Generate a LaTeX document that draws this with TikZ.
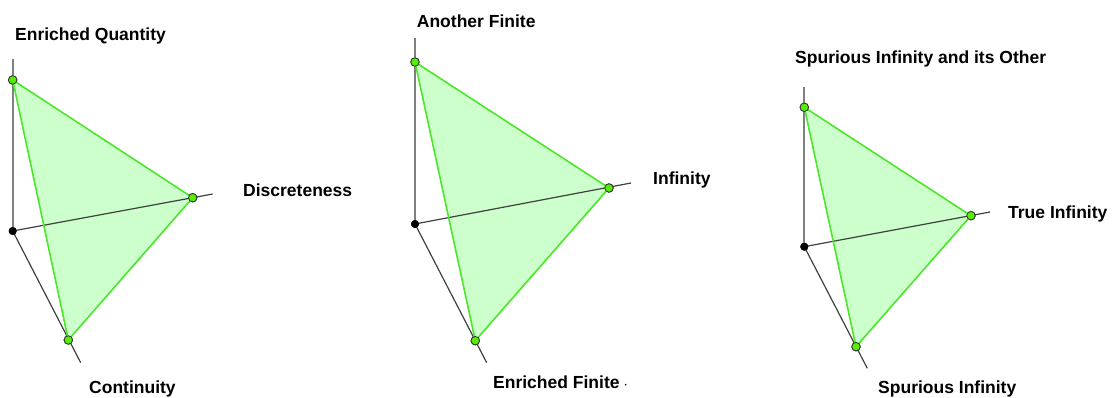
\documentclass[tikz,border=0pt]{standalone}
\usepackage{fontspec}
\setmainfont{Liberation Sans}
\definecolor{facegreen}{HTML}{CCFFCC}
\definecolor{edgegreen}{HTML}{4CE62A}
\definecolor{dotgreen}{HTML}{55EE00}
\begin{document}
\begin{tikzpicture}[x=1pt, y=-1pt,
  lbl/.style={anchor=base west, inner sep=0pt, font=\fontsize{17.5}{20}\selectfont\bfseries},
  vax/.style={draw=black!50, line width=2pt},
  ax/.style={draw=black!75, line width=1.2pt},
  face/.style={fill=facegreen},
  edge/.style={draw=edgegreen, line width=1.6pt},
  gpt/.style={circle, draw=black!80, fill=dotgreen, line width=0.8pt, inner sep=0pt,
              minimum size=8.5pt},
  opt/.style={circle, fill=black, inner sep=0pt, minimum size=8pt},
]
  \useasboundingbox (0,0) rectangle (1112,398);

  % left: Enriched Quantity
  \node[opt] (o1) at (12.7,231)  {};
  \node[gpt] (a1) at (12.7,80)   {};
  \node[gpt] (b1) at (192.7,197.7) {};
  \node[gpt] (c1) at (68.3,340)  {};
  \coordinate (t1) at (12.7,59);
  \coordinate (r1) at (212.7,194);
  \coordinate (d1) at (80.7,362.7);
  \fill[face] (a1.center) -- (b1.center) -- (c1.center) -- cycle;
  \draw[vax] (o1.center) -- (t1);
  \draw[ax]  (o1.center) -- (r1);
  \draw[ax]  (o1.center) -- (d1);
  \draw[edge] (a1.center) -- (b1.center) -- (c1.center) -- cycle;
  \node[gpt] at (a1) {}; \node[gpt] at (b1) {}; \node[gpt] at (c1) {}; \node[opt] at (o1) {};
  \node[lbl] (q1) at (15,40.5)   {Enriched Quantity};
  \node[lbl] (q2) at (243,197)   {Discreteness};
  \node[lbl] (q3) at (89,393)    {Continuity};

  % middle: Another Finite
  \node[opt] (o2) at (415,224)    {};
  \node[gpt] (a2) at (415,62)     {};
  \node[gpt] (b2) at (609,188)    {};
  \node[gpt] (c2) at (475.3,340.7) {};
  \coordinate (t2) at (415,38);
  \coordinate (r2) at (631,183);
  \coordinate (d2) at (486.7,362.7);
  \fill[face] (a2.center) -- (b2.center) -- (c2.center) -- cycle;
  \draw[vax] (o2.center) -- (t2);
  \draw[ax]  (o2.center) -- (r2);
  \draw[ax]  (o2.center) -- (d2);
  \draw[edge] (a2.center) -- (b2.center) -- (c2.center) -- cycle;
  \node[gpt] at (a2) {}; \node[gpt] at (b2) {}; \node[gpt] at (c2) {}; \node[opt] at (o2) {};
  \node[lbl] (f1) at (416.7,27.3) {Another Finite};
  \node[lbl] (f2) at (653,185)    {Infinity};
  \node[lbl] (f3) at (493,388)    {Enriched Finite {\fontsize{10}{12}\selectfont ·}};

  % right: Spurious Infinity
  \node[opt] (o3) at (804.3,246.7) {};
  \node[gpt] (a3) at (804.3,107.3) {};
  \node[gpt] (b3) at (971,215.7)   {};
  \node[gpt] (c3) at (856,346.7)   {};
  \coordinate (t3) at (804.3,87);
  \coordinate (r3) at (990,212);
  \coordinate (d3) at (867.3,368.3);
  \fill[face] (a3.center) -- (b3.center) -- (c3.center) -- cycle;
  \draw[vax] (o3.center) -- (t3);
  \draw[ax]  (o3.center) -- (r3);
  \draw[ax]  (o3.center) -- (d3);
  \draw[edge] (a3.center) -- (b3.center) -- (c3.center) -- cycle;
  \node[gpt] at (a3) {}; \node[gpt] at (b3) {}; \node[gpt] at (c3) {}; \node[opt] at (o3) {};
  \node[lbl] (s1) at (795,63.3)   {Spurious Infinity and its Other};
  \node[lbl] (s2) at (1008,219)   {True Infinity};
  \node[lbl] (s3) at (878,393.3)  {Spurious Infinity};
\end{tikzpicture}
\end{document}
